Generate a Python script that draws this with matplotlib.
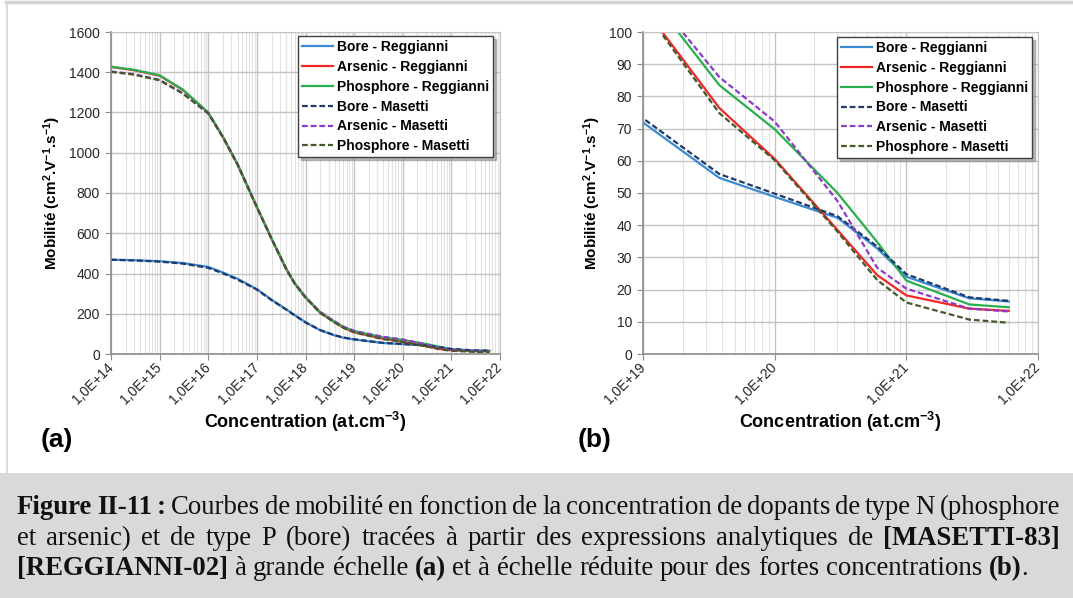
import numpy as np
import matplotlib
matplotlib.use('Agg')
import matplotlib.pyplot as plt
from matplotlib.lines import Line2D
from matplotlib.patches import Rectangle
from matplotlib.ticker import LogLocator, FuncFormatter, MultipleLocator, NullFormatter

# concentrations (at.cm-3)
conc = [1e14, 3e14, 1e15, 3e15, 1e16, 2e16, 4e16, 6e16, 1e17, 2e17, 4e17, 6e17,
        1e18, 2e18, 4e18, 6e18, 1e19, 3.8e19, 1e20, 3e20, 6e20, 1e21, 3e21, 6e21]

# mobilities (cm2/V/s)
bore_reggianni = [469, 466, 461, 452, 433, 405, 374, 351, 322, 270, 222, 193,
                  158, 118, 92, 81, 71.9, 54.7, 48.8, 42.3, 32.8, 24.0, 17.3, 16.3]
arsenic_reggianni = [1426, 1410, 1383, 1312, 1198, 1078, 942, 848, 729, 573, 423, 350,
                     281, 205, 157, 131, 108, 76.4, 60.6, 38.5, 24.5, 18.2, 14.1, 13.4]
phosphore_reggianni = [1428, 1412, 1385, 1314, 1200, 1080, 944, 850, 731, 575, 425, 352,
                       283, 208, 160, 135, 114, 83.5, 69.8, 50.0, 34.8, 22.8, 15.4, 14.5]
bore_masetti = [468, 465, 459, 449, 428, 401, 370, 348, 320, 268, 221, 192,
                157, 119, 93, 82, 73.2, 55.9, 49.8, 42.8, 33.4, 24.8, 17.6, 16.5]
arsenic_masetti = [1404, 1390, 1362, 1296, 1197, 1079, 943, 849, 731, 574, 424, 351,
                   283, 209, 162, 136, 115, 86.0, 72.2, 47.5, 26.8, 20.3, 14.1, 13.2]
phosphore_masetti = [1402, 1388, 1360, 1294, 1195, 1077, 941, 847, 729, 572, 422, 349,
                     280, 204, 156, 130, 107.5, 74.8, 60.2, 38.0, 23.0, 16.0, 10.7, 9.7]

labels = ['Bore - Reggianni', 'Arsenic - Reggianni', 'Phosphore - Reggianni',
          'Bore - Masetti', 'Arsenic - Masetti', 'Phosphore - Masetti']
series = [bore_reggianni, arsenic_reggianni, phosphore_reggianni,
          bore_masetti, arsenic_masetti, phosphore_masetti]
colors = ['#3a8ad4', '#f02828', '#2aae4e', '#1f3a68', '#8a3cc8', '#45592a']
dashed = [False, False, False, True, True, True]

plt.rcParams['font.family'] = ['Liberation Sans', 'DejaVu Sans']
plt.rcParams['mathtext.fontset'] = 'custom'
plt.rcParams['mathtext.bf'] = 'Liberation Sans:bold'
plt.rcParams['mathtext.rm'] = 'Liberation Sans:bold'
plt.rcParams['mathtext.default'] = 'bf'

W, H = 1073, 598
fig = plt.figure(figsize=(W / 100, H / 100), dpi=100)
fig.patch.set_facecolor('white')


def fx(px):
    return px / W


def fy(py):
    return 1 - py / H


def setup_axes(rect, xmin, ymax, ystep, leg_anchor):
    ax = fig.add_axes(rect)
    for s, lab, c, d in zip(series, labels, colors, dashed):
        if d:
            ax.plot(conc, s, color=c, lw=1.6, ls=(0, (2.6, 1.3)), label=lab)
        else:
            ax.plot(conc, s, color=c, lw=1.6, label=lab)
    ax.set_xscale('log')
    ax.set_xlim(xmin, 1e22)
    ax.set_ylim(0, ymax)
    ax.xaxis.set_major_locator(LogLocator(base=10, numticks=20))
    ax.xaxis.set_minor_locator(LogLocator(base=10, subs=np.arange(2, 10), numticks=20))
    ax.xaxis.set_minor_formatter(NullFormatter())
    ax.xaxis.set_major_formatter(FuncFormatter(lambda v, p: '1,0E+%d' % round(np.log10(v))))
    ax.yaxis.set_major_locator(MultipleLocator(ystep))
    ax.grid(which='major', color='#c4c4c4', lw=1.0)
    ax.grid(which='minor', axis='x', color='#e2e2e2', lw=0.8)
    ax.set_axisbelow(True)
    for side in ['top', 'right']:
        ax.spines[side].set_color('#c4c4c4')
    for side in ['left', 'bottom']:
        ax.spines[side].set_color('#8c8c8c')
        ax.spines[side].set_linewidth(1.2)
    ax.tick_params(which='major', direction='out', length=4, color='#8c8c8c',
                   labelsize=10, labelcolor='#262626', pad=4)
    ax.tick_params(which='minor', length=0)
    for t in ax.get_xticklabels():
        t.set_rotation(45)
        t.set_rotation_mode('anchor')
        t.set_ha('right')
        t.set_va('center')
    ax.set_ylabel(r'Mobilité (cm$^{2}$.V$^{-1}$.s$^{-1}$)', fontsize=11, fontweight='bold')
    ax.set_xlabel(r'Concentration (at.cm$^{-3}$)', fontsize=13, fontweight='bold', labelpad=2)
    leg = ax.legend(loc='upper right', bbox_to_anchor=leg_anchor, fancybox=False,
                    framealpha=1, edgecolor='#404040', shadow={'color': '0.55', 'alpha': 0.6},
                    prop={'weight': 'bold', 'size': 10}, handlelength=2.2,
                    handletextpad=0.3, labelspacing=0.42, borderpad=0.3, borderaxespad=0)
    leg.get_frame().set_linewidth(1.0)
    return ax


ax_a = setup_axes([fx(111), fy(354), fx(389), (354 - 32) / H], 1e14, 1600, 200, (0.982, 0.988))
ax_b = setup_axes([fx(643), fy(354), fx(395), (354 - 32) / H], 1e19, 100, 10, (0.985, 0.985))

fig.text(fx(57), fy(440), '(a)', fontsize=19, fontweight='bold', ha='center', va='center')
fig.text(fx(595), fy(440), '(b)', fontsize=19, fontweight='bold', ha='center', va='center')

# page borders
fig.add_artist(Line2D([fx(6), 1], [fy(2), fy(2)], transform=fig.transFigure, color='#d4d4d4', lw=2.5))
fig.add_artist(Line2D([fx(6.5), fx(6.5)], [fy(2), fy(473)], transform=fig.transFigure, color='#d4d4d4', lw=1.2))

# caption box
fig.add_artist(Rectangle((0, 0), 1, fy(473), transform=fig.transFigure,
                         facecolor='#d9d9d9', edgecolor='none', zorder=0))

caption = [
    [('Figure II-11 :', True), (' Courbes de mobilité en fonction de la concentration de dopants de type N (phosphore', False)],
    [('et arsenic) et de type P (bore) tracées à partir des expressions analytiques de ', False), ('[MASETTI-83]', True)],
    [('[REGGIANNI-02]', True), (' à grande échelle ', False), ('(a)', True),
     (' et à échelle réduite pour des fortes concentrations ', False), ('(b)', True), ('.', False)],
]
cap_base = [514, 545, 575]
renderer = fig.canvas.get_renderer()


def runs_of(segments):
    runs = [[]]
    for txt, bold in segments:
        parts = txt.split(' ')
        for i, p in enumerate(parts):
            if i > 0:
                runs.append([])
            if p:
                runs[-1].append((p, bold))
    return [r for r in runs if r]


def width_of(piece, bold, fs):
    t = fig.text(0, 0, piece, fontsize=fs, family='Liberation Serif',
                 fontweight='bold' if bold else 'normal')
    w = t.get_window_extent(renderer).width
    t.remove()
    return w


def natural_width(runs, fs):
    sp = 0.25 * fs * 100 / 72
    return sum(width_of(p, b, fs) for r in runs for p, b in r) + sp * (len(runs) - 1)


fs = 16
fs = fs * (1030 - 17) / natural_width(runs_of(caption[2]), fs)
x0, x1 = 17, 1060
for i, (segs, yb) in enumerate(zip(caption, cap_base)):
    runs = runs_of(segs)
    rw = [[width_of(p, b, fs) for p, b in r] for r in runs]
    tot = sum(sum(r) for r in rw)
    if i < 2:
        gap = (x1 - x0 - tot) / (len(runs) - 1)
    else:
        gap = 0.25 * fs * 100 / 72
    x = x0
    for r, ws in zip(runs, rw):
        for (p, b), w in zip(r, ws):
            fig.text(fx(x), fy(yb), p, fontsize=fs, family='Liberation Serif',
                     fontweight='bold' if b else 'normal', va='baseline', color='#111111')
            x += w
        x += gap

fig.savefig('out.png', dpi=100)
